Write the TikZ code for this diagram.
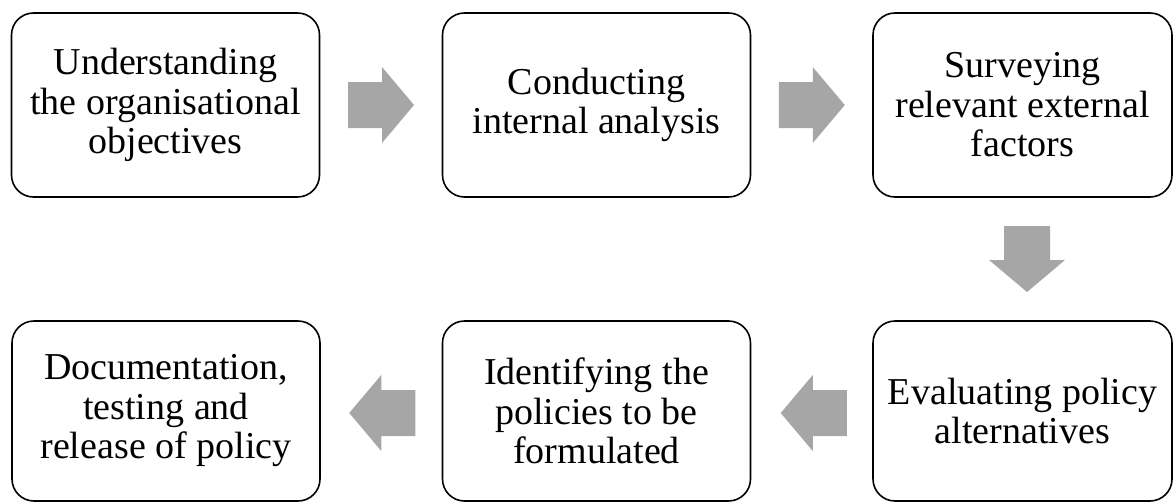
\documentclass[tikz,border=0pt]{standalone}
\usepackage{fontspec}
\setmainfont{Liberation Serif}
\usetikzlibrary{calc}
\definecolor{arrowgray}{HTML}{A6A6A6}
\begin{document}
\begin{tikzpicture}[x=1pt,y=1pt,
  stepbox/.style={draw=black, line width=1.6pt, rounded corners=22pt,
    minimum width=308pt, minimum height=184pt, align=center,
    inner sep=0pt, font=\fontsize{38}{39.5}\selectfont},
  blockarrow/.pic={\fill[arrowgray] (-33,-23) -- (1,-23) -- (1,-38) -- (33,0)
    -- (1,38) -- (1,23) -- (-33,23) -- cycle;}
]
\useasboundingbox (0,0) rectangle (1174,-503);
% top row
\node[stepbox] (b1) at (165.5,-105) {Understanding\\the organisational\\objectives};
\node[stepbox] (b2) at (596.5,-105) {Conducting\\internal analysis};
\node[stepbox, minimum width=299pt] (b3) at (1022.5,-105) {Surveying\\relevant external\\factors};
% bottom row
\node[stepbox, minimum height=180pt] (b4) at (166,-411) {Documentation,\\testing and\\release of policy};
\node[stepbox, minimum height=180pt] (b5) at (596.5,-411) {Identifying the\\policies to be\\formulated};
\node[stepbox, minimum height=180pt, minimum width=299pt] (b6) at (1022.5,-411) {Evaluating policy\\alternatives};
% block arrows between the steps
\pic at ($(b1.east)!0.5!(b2.west)$) {blockarrow};
\pic at ($(b2.east)!0.5!(b3.west)$) {blockarrow};
\pic[rotate=-90] at ($(b3.south)!0.5!(b6.north)+(4.5,0)$) {blockarrow};
\pic[rotate=180] at ($(b6.west)!0.5!(b5.east)+(2,-2)$) {blockarrow};
\pic[rotate=180] at ($(b5.west)!0.5!(b4.east)+(1,-2)$) {blockarrow};
\end{tikzpicture}
\end{document}
